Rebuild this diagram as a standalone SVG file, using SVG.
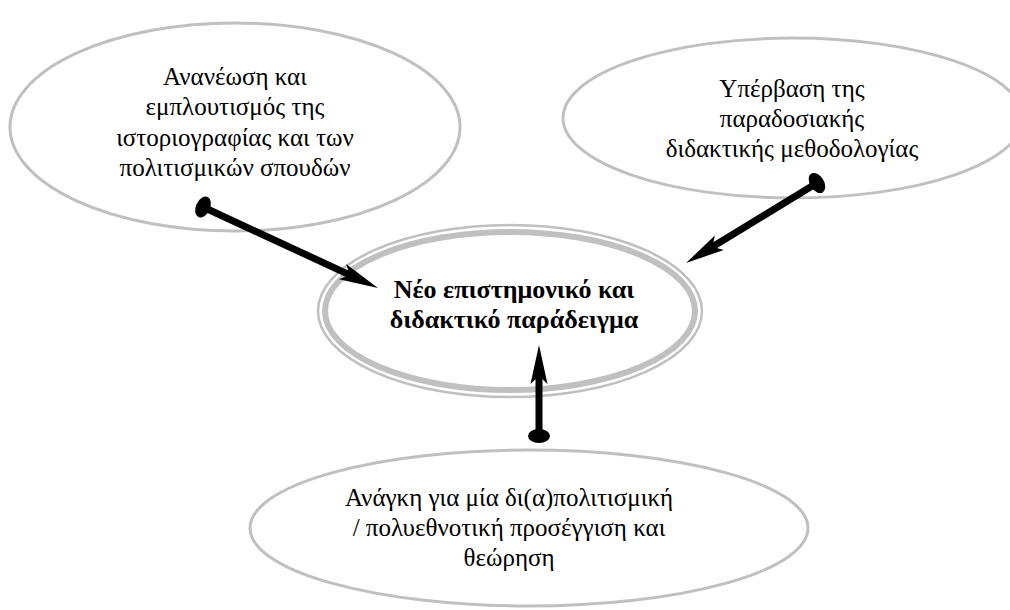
<svg xmlns="http://www.w3.org/2000/svg" width="1010" height="610" viewBox="0 0 1010 610">
<style>
.bub{fill:#ffffff;stroke:#c0c0c0;stroke-width:3}
.ringo{fill:#ffffff;stroke:#c0c0c0;stroke-width:2.5}
.ringi{fill:none;stroke:#c0c0c0;stroke-width:6}
.t{font-family:"Liberation Serif","Times New Roman","DejaVu Serif",serif;font-size:25px;font-weight:normal;fill:#000;text-anchor:middle}
.tb{font-family:"Liberation Serif","Times New Roman","DejaVu Serif",serif;font-size:26px;font-weight:bold;fill:#000;text-anchor:middle}
.con{stroke:#000;stroke-width:7;fill:none;marker-start:url(#dot);marker-end:url(#head)}
</style>
<defs>
<marker id="head" markerUnits="userSpaceOnUse" orient="auto" markerWidth="50" markerHeight="30" viewBox="-25 -15 50 30" refX="0" refY="0" overflow="visible">
<path d="M20,0 L-19,-8.5 L-11,0 L-19,8.5 Z" fill="#000"/>
</marker>
<marker id="dot" markerUnits="userSpaceOnUse" orient="auto" markerWidth="30" markerHeight="30" viewBox="-15 -15 30 30" refX="0" refY="0" overflow="visible">
<ellipse cx="0" cy="0" rx="7" ry="11" fill="#000"/>
</marker>
</defs>
<g id="node-top-left">
<ellipse class="bub" cx="235" cy="127" rx="225" ry="104"/>
<text class="t" x="235" y="85">Ανανέωση και</text>
<text class="t" x="235" y="115">εμπλουτισμός της</text>
<text class="t" x="235" y="146">ιστοριογραφίας και των</text>
<text class="t" x="235" y="176">πολιτισμικών σπουδών</text>
</g>
<g id="node-top-right">
<ellipse class="bub" cx="793" cy="118" rx="230" ry="80"/>
<text class="t" x="792" y="97">Υπέρβαση της</text>
<text class="t" x="792" y="127">παραδοσιακής</text>
<text class="t" x="792" y="157">διδακτικής μεθοδολογίας</text>
</g>
<g id="node-bottom">
<ellipse class="bub" cx="529" cy="528" rx="279" ry="78"/>
<text class="t" x="509" y="506">Ανάγκη για μία δι(α)πολιτισμική</text>
<text class="t" x="509" y="536">/ πολυεθνοτική προσέγγιση και</text>
<text class="t" x="509" y="566">θεώρηση</text>
</g>
<g id="node-center">
<ellipse class="ringo" cx="510" cy="311" rx="192" ry="86"/>
<ellipse class="ringi" cx="510" cy="311" rx="185" ry="79"/>
<text class="tb" x="514" y="298">Νέο επιστημονικό και</text>
<text class="tb" x="514" y="328">διδακτικό παράδειγμα</text>
</g>
<g id="connectors">
<path class="con" d="M203,207 L359.8,279.6"/>
<path class="con" d="M817,183 L703.1,252.6"/>
<path class="con" d="M539,436 L539,365"/>
</g>
</svg>
